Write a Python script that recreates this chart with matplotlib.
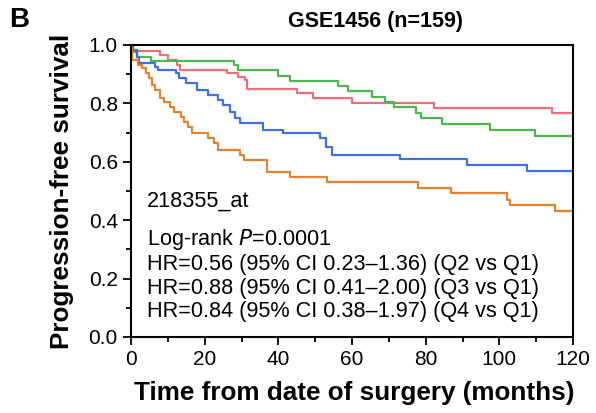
import numpy as np
import matplotlib
matplotlib.use('Agg')
import matplotlib.pyplot as plt
from matplotlib.ticker import MultipleLocator

plt.rcParams['font.family'] = ['Liberation Sans', 'DejaVu Sans']

# Kaplan-Meier step points (months, survival)
q1_t = [0, 0.3, 1.9, 3, 4, 5, 5.7, 6.5, 8, 9, 10.6, 11.8, 13.6, 14.5, 15.5, 16.5,
        21, 22.5, 23.5, 29.5, 30.8, 37, 43.3, 53.3, 78, 87, 102, 102.8, 115, 120]
q1_s = [1.0, 0.949, 0.932, 0.92, 0.903, 0.886, 0.863, 0.846, 0.817, 0.806, 0.789, 0.772, 0.755, 0.737,
        0.718, 0.697, 0.68, 0.663, 0.64, 0.623, 0.606, 0.566, 0.549, 0.53, 0.509, 0.492, 0.469,
        0.452, 0.432, 0.432]

q2_t = [0, 0.6, 8.0, 10.1, 12.4, 13.3, 26, 29, 31, 31.4, 45, 49.5, 60, 82.3, 114.3, 120]
q2_s = [1.0, 0.98, 0.966, 0.949, 0.932, 0.914, 0.903, 0.891, 0.88, 0.848, 0.834, 0.817, 0.8,
        0.783, 0.766, 0.766]

q3_t = [0, 0.5, 1.7, 5.5, 28, 29, 40, 43.2, 56.3, 58.9, 65.3, 69, 71.3, 77.3, 78.7, 84.3,
        97.5, 109.6, 120]
q3_s = [1.0, 0.977, 0.96, 0.946, 0.93, 0.914, 0.895, 0.878, 0.86, 0.842, 0.823, 0.806, 0.787,
        0.768, 0.749, 0.729, 0.709, 0.688, 0.688]

q4_t = [0, 0.5, 1.5, 2.3, 6.4, 7.3, 12.1, 12.9, 15, 17.8, 21, 23.5, 25, 26.9, 28.2, 29.5,
        35.9, 41.3, 51.3, 53, 54.5, 73, 91.1, 107.4, 120]
q4_s = [1.0, 0.983, 0.96, 0.937, 0.925, 0.914, 0.903, 0.886, 0.869, 0.846, 0.829, 0.812, 0.795,
        0.772, 0.749, 0.732, 0.709, 0.697, 0.68, 0.652, 0.623, 0.608, 0.589, 0.57, 0.57]

annot = ['Log-rank $\\it{P}$=0.0001',
         'HR=0.56 (95% CI 0.23\u20131.36) (Q2 vs Q1)',
         'HR=0.88 (95% CI 0.41\u20132.00) (Q3 vs Q1)',
         'HR=0.84 (95% CI 0.38\u20131.97) (Q4 vs Q1)']


def main():
    fig = plt.figure(figsize=(5.96, 4.13), dpi=100)
    ax = fig.add_axes([131 / 596, 1 - 337 / 413, 442 / 596, 292 / 413])

    ax.step(q2_t, q2_s, where='post', color='#E8707C', lw=1.6)
    ax.step(q3_t, q3_s, where='post', color='#4DB84D', lw=1.6)
    ax.step(q4_t, q4_s, where='post', color='#3F6FE0', lw=1.6)
    ax.step(q1_t, q1_s, where='post', color='#E0832F', lw=1.6)

    ax.set_xlim(0, 120)
    ax.set_ylim(0, 1.0)
    ax.xaxis.set_major_locator(MultipleLocator(20))
    ax.xaxis.set_minor_locator(MultipleLocator(10))
    ax.yaxis.set_major_locator(MultipleLocator(0.2))
    ax.yaxis.set_minor_locator(MultipleLocator(0.1))
    ax.yaxis.set_major_formatter(plt.FuncFormatter(lambda v, p: '%.1f' % v))
    ax.tick_params(which='major', length=6, width=1.3, labelsize=15, direction='out')
    ax.tick_params(which='minor', length=3.5, width=1.3, direction='out')
    for s in ax.spines.values():
        s.set_linewidth(1.5)

    ax.set_xlabel('Time from date of surgery (months)', fontsize=18.8, fontweight='bold')
    ax.set_ylabel('Progression-free survival', fontsize=18.8, fontweight='bold')
    ax.xaxis.set_label_coords(0.505, -0.152)
    ax.yaxis.set_label_coords(-0.128, 0.5)

    fig.text(375 / 596, 1 - 21 / 413, 'GSE1456 (n=159)', fontsize=15.5, fontweight='bold',
             ha='center', va='center')
    fig.text(9 / 596, 1 - 20 / 413, 'B', fontsize=20, fontweight='bold', ha='left', va='center')

    tx = 147 / 596
    fig.text(tx, 1 - 207 / 413, '218355_at', fontsize=15.6, ha='left', va='baseline')
    for i, line in enumerate(annot):
        yb = [245, 270, 294, 317][i]
        fig.text(tx, 1 - yb / 413, line, fontsize=15.6, ha='left', va='baseline')

    fig.savefig('out.png', dpi=100)


if __name__ == '__main__':
    main()
